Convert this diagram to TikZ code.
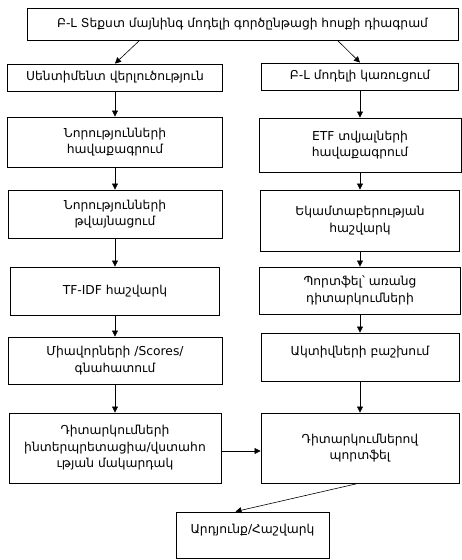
\documentclass[tikz,border=0pt]{standalone}
\usepackage{fontspec}
\setmainfont{DejaVu Sans}
\usetikzlibrary{positioning, arrows.meta}

\begin{document}
\begin{tikzpicture}[x = 1pt, y = -1pt,
        box/.style = {draw, line width = 0.9pt, align = center, inner sep = 2pt,
                      font = \fontsize{12.3}{16.5}\selectfont},
        link/.style = {-{Triangle[length = 6pt, width = 6pt]}, line width = 0.6pt}]
            \useasboundingbox (0,0) rectangle (461,560);
            \def\lx{115}
            \def\rx{360}
            % title
            \node[box, minimum width = 431pt, minimum height = 32pt] (title) at (242.5,24)
                {Բ-Լ Տեքստ մայնինգ մոդելի գործընթացի հոսքի դիագրամ};

            % left column
            \node[box, minimum width = 215pt, minimum height = 27pt] (senti) at (\lx,77.5)
                {Սենտիմենտ վերլուծություն};
            \node[box, minimum width = 215pt, minimum height = 50pt] (news) at (\lx,142)
                {Նորությունների\\հավաքագրում};
            \node[box, minimum width = 214pt, minimum height = 48pt] (digit) at (\lx,214)
                {Նորությունների\\թվայնացում};
            \node[box, minimum width = 209pt, minimum height = 48pt] (tfidf) at (\lx,291)
                {TF-IDF հաշվարկ};
            \node[box, minimum width = 214pt, minimum height = 47pt] (score) at (\lx,360.5)
                {Միավորների /Scores/\\գնահատում};
            \node[box, minimum width = 212pt, minimum height = 70pt] (views) at (\lx,448)
                {Դիտարկումների\\ինտերպրետացիա/վստահո\\ւթյան մակարդակ};

            % right column
            \node[box, minimum width = 197pt, minimum height = 27pt] (blmod) at (\rx,76.5)
                {Բ-Լ մոդելի կառուցում};
            \node[box, minimum width = 202pt, minimum height = 54pt] (etf) at (\rx,145)
                {ETF տվյալների\\հավաքագրում};
            \node[box, minimum width = 199pt, minimum height = 61pt] (ret) at (\rx,220.5)
                {Եկամտաբերության\\հաշվարկ};
            \node[box, minimum width = 201pt, minimum height = 47pt] (noview) at (\rx,290.5)
                {Պորտֆել՝ առանց\\դիտարկումների};
            \node[box, minimum width = 198pt, minimum height = 48pt] (alloc) at (\rx,357)
                {Ակտիվների բաշխում\\[-5pt]{}};
            \node[box, minimum width = 198pt, minimum height = 70pt] (withview) at (\rx,448)
                {Դիտարկումներով\\պորտֆել};

            % result
            \node[box, minimum width = 153pt, minimum height = 46pt] (result) at (252.5,535)
                {Արդյունք/Հաշվարկ\\[-5pt]{}};

            % connectors
            \draw[link] ([xshift = 113pt]title.south west) -- (senti.north);
            \draw[link] ([xshift = 311pt]title.south west) -- (blmod.north);
            \draw[link] (senti) -- (news);
            \draw[link] (news) -- (digit);
            \draw[link] (digit) -- (tfidf);
            \draw[link] (tfidf) -- (score);
            \draw[link] (score) -- (views);
            \draw[link] (blmod) -- (etf);
            \draw[link] (etf) -- (ret);
            \draw[link] (ret) -- (noview);
            \draw[link] (noview) -- (alloc);
            \draw[link] (alloc) -- (withview);
            \draw[link] ([yshift = -3pt]views.east) -- ([yshift = -3pt]withview.west);
            \draw[link] ([xshift = -2pt]withview.south) -- ([xshift = -17pt]result.north);
        \end{tikzpicture}
\end{document}
